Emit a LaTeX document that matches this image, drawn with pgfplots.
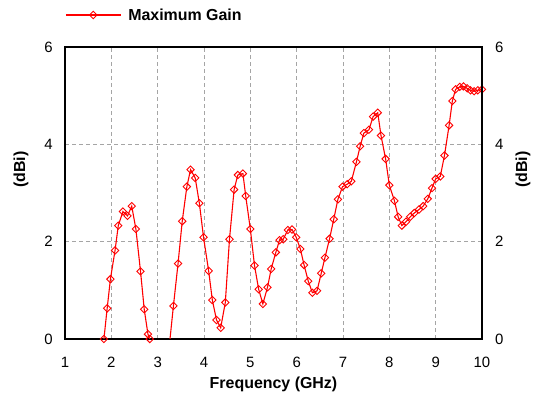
\documentclass[border=0pt]{standalone}
\usepackage{fontspec}
\setmainfont{Liberation Sans}
\usepackage{pgfplots}
\pgfplotsset{compat=1.18}
\usepackage{pgfplotstable}
\definecolor{gridgray}{RGB}{165,165,165}
\pgfplotstableread{
x y
1.84 0.00
1.91 0.63
1.98 1.23
2.08 1.82
2.15 2.33
2.25 2.62
2.35 2.53
2.44 2.73
2.53 2.26
2.63 1.39
2.71 0.61
2.79 0.10
2.83 0.00
2.91 -0.45
3.00 -0.85
3.08 -0.95
3.17 -0.65
3.25 -0.15
3.34 0.68
3.44 1.55
3.53 2.42
3.63 3.13
3.71 3.48
3.81 3.31
3.90 2.79
3.99 2.09
4.10 1.40
4.18 0.80
4.27 0.39
4.36 0.23
4.46 0.75
4.55 2.05
4.65 3.07
4.73 3.37
4.84 3.40
4.90 2.94
5.00 2.26
5.09 1.51
5.18 1.02
5.27 0.72
5.37 1.06
5.45 1.44
5.55 1.78
5.63 2.03
5.71 2.05
5.81 2.24
5.90 2.25
5.99 2.09
6.08 1.85
6.16 1.52
6.25 1.19
6.34 0.95
6.44 0.99
6.53 1.35
6.61 1.67
6.71 2.06
6.80 2.46
6.89 2.87
6.99 3.13
7.09 3.18
7.18 3.24
7.29 3.64
7.37 3.96
7.45 4.23
7.56 4.30
7.65 4.57
7.75 4.65
7.82 4.18
7.92 3.70
8.00 3.16
8.11 2.84
8.19 2.51
8.27 2.33
8.36 2.41
8.45 2.51
8.54 2.59
8.64 2.66
8.73 2.73
8.83 2.88
8.92 3.10
9.00 3.29
9.10 3.34
9.19 3.77
9.29 4.39
9.36 4.89
9.43 5.13
9.52 5.18
9.60 5.19
9.68 5.15
9.75 5.11
9.83 5.09
9.91 5.11
10.00 5.13
}\gaindata
\pgfplotsset{
  commonax/.style={
    scale only axis,
    width=417bp, height=292bp,
    xmin=1, xmax=10, ymin=0, ymax=6,
    xtick={1,2,...,10}, ytick={0,2,4,6},
    /pgf/number format/assume math mode=true,
    tick style={draw=none},
    axis line style={line width=1.2bp, black},
    ticklabel style={font=\fontsize{15}{18}\selectfont, inner sep=0pt},
    label style={font=\fontsize{16}{19}\selectfont\bfseries},
  }
}
\begin{document}
\begin{tikzpicture}
\begin{axis}[
  commonax,
  name=ax,
  grid=major,
  major grid style={gridgray, line width=0.9bp, dash pattern=on 4bp off 3bp},
  xticklabel style={anchor=center, yshift=-23bp},
  yticklabel style={anchor=east, xshift=-12bp},
  xlabel={Frequency (GHz)},
  ylabel={(dBi)},
  xlabel style={at={(rel axis cs:0.5,0)}, anchor=center, yshift=-45bp},
  ylabel style={at={(rel axis cs:0,0.58)}, anchor=center, rotate=0, yshift=44bp},
  legend style={at={(rel axis cs:0,1)}, anchor=west, yshift=32bp, draw=none, fill=none,
    inner sep=0pt, font=\fontsize{16}{19}\selectfont\bfseries,
    nodes={inner xsep=7bp}},
  legend image code/.code={\draw[mark repeat=2,mark phase=2] plot coordinates {(-2bp,0bp) (25.5bp,0bp) (53bp,0bp)};},
]
\addplot[red, line width=1.1bp, no markers, forget plot] table[x=x,y=y] {\gaindata};
\addplot[red, only marks, mark=square, mark size=2.6bp, mark options={rotate=45, fill=white, line width=0.9bp}, restrict y to domain=-0.05:7, forget plot] table[x=x,y=y] {\gaindata};
\addlegendimage{red, line width=1.1bp, mark=square, mark size=2.6bp, mark options={rotate=45, fill=white, line width=0.9bp}}
\addlegendentry{Maximum Gain}
\end{axis}
\begin{axis}[
  commonax,
  axis x line=none,
  axis y line*=right,
  yticklabel style={anchor=west, xshift=13bp},
  ylabel={(dBi)},
  ylabel style={at={(rel axis cs:1,0.58)}, anchor=center, yshift=-41bp},
]
\end{axis}
\pgfresetboundingbox
\path[use as bounding box] ([shift={(-65bp,-57bp)}]ax.south west) rectangle ([shift={(53bp,47bp)}]ax.north east);
\end{tikzpicture}
\end{document}
